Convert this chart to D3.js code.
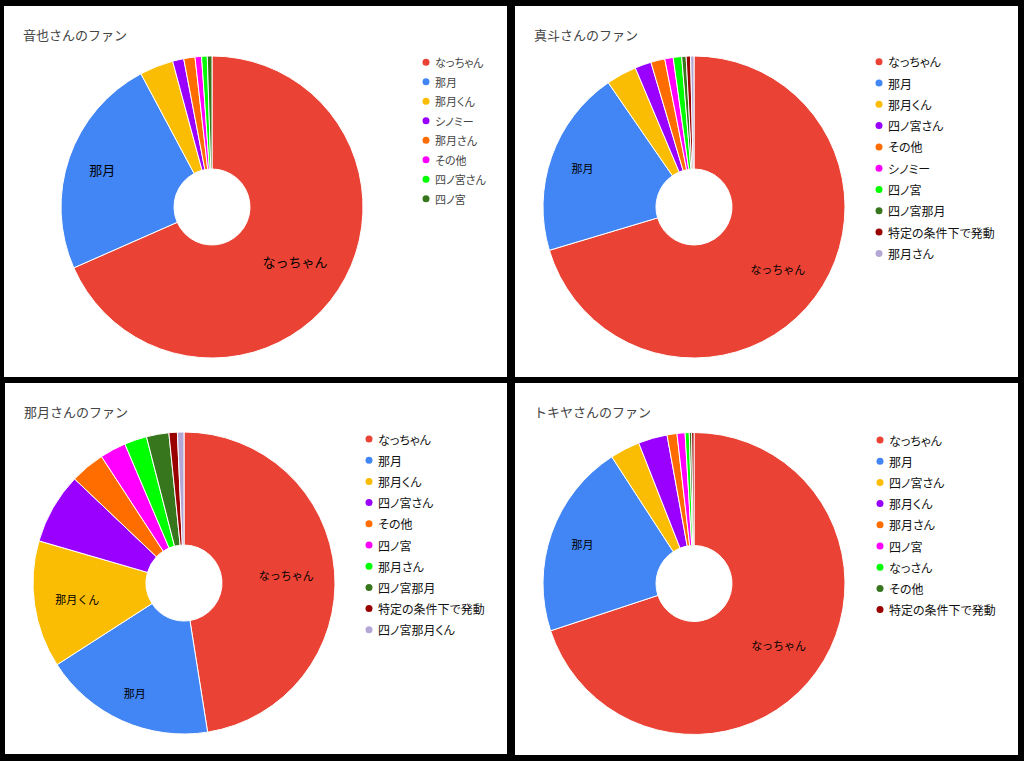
<!DOCTYPE html>
<html>
<head>
<meta charset="utf-8">
<script src="https://cdn.jsdelivr.net/npm/d3@7"></script>
<style>
  html, body { margin: 0; padding: 0; background: #000; }
  svg { display: block; }
  text { font-family: "Noto Sans CJK JP", "Noto Sans", sans-serif; }
  .leg { font-feature-settings: "palt" 1; }
</style>
</head>
<body>
<svg id="chart" width="1024" height="761"></svg>
<script>
// ---- data ----
const titles = ["音也さんのファン", "真斗さんのファン", "那月さんのファン", "トキヤさんのファン"];

const otoyaLabels  = ["なっちゃん", "那月", "那月くん", "シノミー", "那月さん", "その他", "四ノ宮さん", "四ノ宮"];
const otoyaValues  = [68.4, 23.8, 3.6, 1.2, 1.2, 0.7, 0.6, 0.5];

const masatoLabels = ["なっちゃん", "那月", "那月くん", "四ノ宮さん", "その他", "シノミー", "四ノ宮", "四ノ宮那月", "特定の条件下で発動", "那月さん"];
const masatoValues = [70.3, 20.0, 3.25, 1.75, 1.5, 0.9, 0.9, 0.47, 0.47, 0.36];

const natsukiLabels = ["なっちゃん", "那月", "那月くん", "四ノ宮さん", "その他", "四ノ宮", "那月さん", "四ノ宮那月", "特定の条件下で発動", "四ノ宮那月くん"];
const natsukiValues = [47.5, 18.4, 13.6, 7.6, 3.7, 2.8, 2.4, 2.4, 0.9, 0.7];

const tokiyaLabels = ["なっちゃん", "那月", "四ノ宮さん", "那月くん", "那月さん", "四ノ宮", "なっさん", "その他", "特定の条件下で発動"];
const tokiyaValues = [69.9, 20.9, 3.2, 3.1, 1.06, 0.86, 0.44, 0.25, 0.25];

const palette = ["#ea4335", "#4285f4", "#fbbc04", "#9900ff", "#ff6d01", "#ff00ff", "#00ff00", "#38761d", "#990000", "#b4a7d6"];

// ---- layout (styles / positions) ----
const panels = [
  {labels: otoyaLabels,   values: otoyaValues,   x: 4,   y: 6,   w: 503, h: 371, cx: 208, cy: 201,   legX: 422, legY: 56.3, legStep: 19.5, legColor: "#444", legFont: 11, labelFont: 13},
  {labels: masatoLabels,  values: masatoValues,  x: 515, y: 6,   w: 503, h: 371, cx: 179, cy: 201,   legX: 364, legY: 55.7, legStep: 21.3, legColor: "#111", legFont: 12, labelFont: 11},
  {labels: natsukiLabels, values: natsukiValues, x: 5,   y: 383, w: 502, h: 371, cx: 179, cy: 200,   legX: 364, legY: 56,   legStep: 21.2, legColor: "#111", legFont: 12, labelFont: 11},
  {labels: tokiyaLabels,  values: tokiyaValues,  x: 515, y: 383, w: 503, h: 372, cx: 179, cy: 200.5, legX: 365, legY: 57,   legStep: 21.2, legColor: "#111", legFont: 12, labelFont: 11}
];

const outerR = 151, innerR = 38;
const svg = d3.select("#chart");
svg.append("rect").attr("width", 1024).attr("height", 761).attr("fill", "#000");

panels.forEach((p, pi) => {
  const g = svg.append("g").attr("transform", `translate(${p.x},${p.y})`);
  g.append("rect").attr("width", p.w).attr("height", p.h).attr("fill", "#fff");

  g.append("text")
    .attr("x", 19).attr("y", 34)
    .attr("font-size", 13).attr("fill", "#444")
    .text(titles[pi]);

  const data = p.labels.map((l, i) => ({label: l, value: p.values[i], i}));
  const total = d3.sum(p.values);
  const pie = d3.pie().value(d => d.value).sort(null);
  const arc = d3.arc().innerRadius(innerR).outerRadius(outerR);
  const color = d3.scaleOrdinal().domain(d3.range(palette.length)).range(palette);

  const pg = g.append("g").attr("transform", `translate(${p.cx},${p.cy})`);
  const arcs = pie(data);
  pg.selectAll("path").data(arcs).join("path")
    .attr("d", arc)
    .attr("fill", d => color(d.data.i))
    .attr("stroke", "#fff")
    .attr("stroke-width", 1);

  // slice labels (large slices only), placed so that the text box's far corner sits on a fixed radius
  const R = outerR * 0.864;
  arcs.filter(d => d.data.value / total > 0.10).forEach(d => {
    const a = (d.startAngle + d.endAngle) / 2;
    const ux = Math.sin(a), uy = -Math.cos(a);
    const t = pg.append("text")
      .attr("font-size", p.labelFont)
      .attr("fill", "#000")
      .attr("text-anchor", "middle")
      .attr("dominant-baseline", "central")
      .text(d.data.label);
    const w = t.node().getComputedTextLength();
    const h = p.labelFont;
    const b = Math.abs(ux) * w / 2 + Math.abs(uy) * h / 2;
    const c = (w * w + h * h) / 4;
    const dist = -b + Math.sqrt(b * b - c + R * R);
    t.attr("x", ux * dist).attr("y", uy * dist);
  });

  // legend
  const lg = g.append("g");
  const items = lg.selectAll("g").data(data).join("g")
    .attr("transform", (d, i) => `translate(${p.legX},${p.legY + i * p.legStep})`);
  items.append("circle").attr("r", 3.5).attr("fill", d => color(d.i));
  items.append("text")
    .attr("class", "leg")
    .attr("x", 9).attr("y", 0)
    .attr("dominant-baseline", "central")
    .attr("font-size", p.legFont)
    .attr("fill", p.legColor)
    .text(d => d.label);
});
</script>
</body>
</html>
